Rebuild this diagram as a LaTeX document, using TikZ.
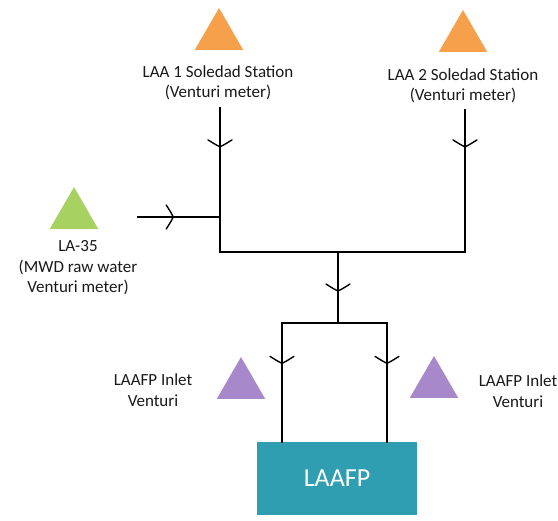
\documentclass[tikz,border=0pt]{standalone}
\usepackage{fontspec}
\setmainfont{Carlito}
\usetikzlibrary{decorations.markings,shapes.geometric}
\definecolor{meterorange}{HTML}{F6A04B}
\definecolor{metergreen}{HTML}{A7D262}
\definecolor{meterpurple}{HTML}{A688CB}
\definecolor{plantteal}{HTML}{2E9EB0}
\begin{document}
\begin{tikzpicture}[x=1pt,y=-1pt,
  pipe/.style={line width=2.8pt, line cap=rect},
  flow/.style={pipe, postaction={decorate}, decoration={markings,
    mark=at position #1 with {\draw[line width=1.4pt, line cap=round]
      (-7pt,12pt) .. controls (-2pt,4pt) .. (0pt,0pt) .. controls (-2pt,-4pt) .. (-7pt,-12pt);}}},
  meter/.style={regular polygon, regular polygon sides=3, minimum size=56pt, inner sep=0pt, draw=none},
  lbl/.style={align=center, font=\fontsize{17}{20.5}\selectfont, text=black!90},
  plantbox/.style={fill=plantteal, minimum width=160pt, minimum height=73pt, inner sep=0pt,
    text=white, font=\fontsize{26}{30}\selectfont}]
\useasboundingbox (0,0) rectangle (558,521);
% meters
\node[meter, fill=meterorange] (m1) at (219,36) {};
\node[meter, fill=meterorange] (m2) at (463,38) {};
\node[meter, fill=metergreen] (m3) at (74,215) {};
\node[meter, fill=meterpurple] (m4) at (241,385) {};
\node[meter, fill=meterpurple] (m5) at (434,384) {};
% labels
\node[lbl] (l1) at (218,83) {LAA 1 Soledad Station\\(Venturi meter)};
\node[lbl] (l2) at (463,86) {LAA 2 Soledad Station\\(Venturi meter)};
\node[lbl] (l3) at (78,268) {LA-35\\(MWD raw water\\Venturi meter)};
\node[lbl] (l4) at (153,390) {LAAFP Inlet\\Venturi};
\node[lbl] (l5) at (518,391) {LAAFP Inlet\\Venturi};
% plant
\node[plantbox] (plant) at (337,478.5) {LAAFP};
% junctions
\coordinate (a1) at (220,108);
\coordinate (a2) at (465,110);
\coordinate (a3) at (138,217);
\coordinate (j3) at (220,217);
\coordinate (kl) at (220,252);
\coordinate (kr) at (465,252);
\coordinate (km) at (338,252);
\coordinate (kb) at (338,323);
\coordinate (bl) at (282,323);
\coordinate (br) at (387,323);
% pipes
\draw[flow=0.27] (a1) -- (kl);
\draw[flow=0.26] (a2) -- (kr);
\draw[flow=0.43] (a3) -- (j3);
\draw[pipe] (kl) -- (kr);
\draw[flow=0.55] (km) -- (kb);
\draw[pipe] (bl) -- (br);
\draw[flow=0.34] (bl) -- (plant.north -| bl);
\draw[flow=0.34] (br) -- (plant.north -| br);
\end{tikzpicture}
\end{document}
